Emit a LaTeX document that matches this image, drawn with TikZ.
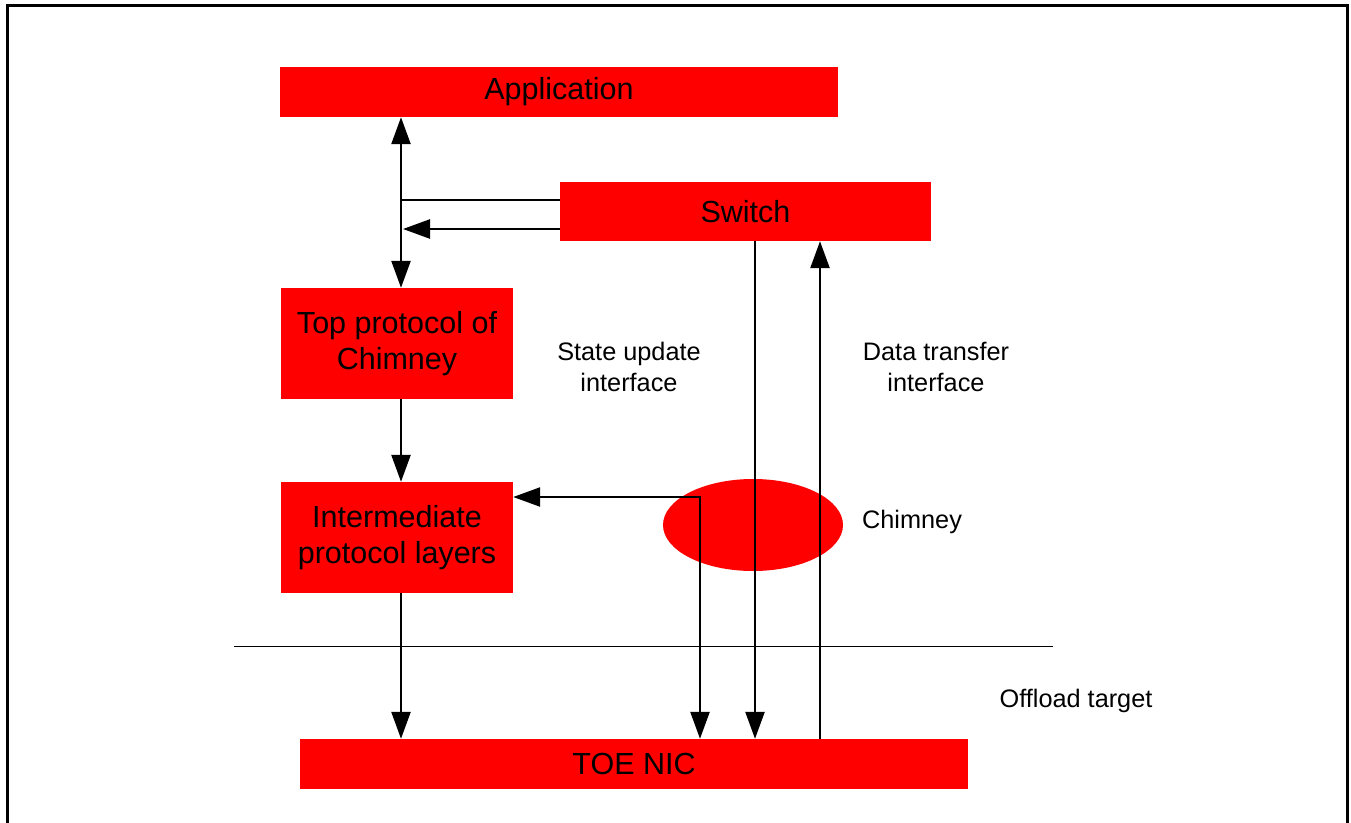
\documentclass[tikz,border=0pt]{standalone}
\usepackage{fontspec}
\setmainfont{Liberation Sans}
\usetikzlibrary{arrows.meta,shapes.geometric}
\begin{document}
\begin{tikzpicture}[x=1pt,y=-1pt,
  blk/.style={fill={rgb,255:red,255;green,0;blue,0}, draw=none, inner sep=0pt, align=center, font=\fontsize{30.5}{35.5}\selectfont},
  lbl/.style={align=center, font=\fontsize{25.3}{31}\selectfont},
  arr/.style={line width=2.5pt, -{Triangle[length=27pt,width=19pt]}},
  darr/.style={line width=2.5pt, {Triangle[length=27pt,width=19pt]}-{Triangle[length=27pt,width=19pt]}},
  ln/.style={line width=2.5pt}]
\useasboundingbox (0,0) rectangle (1351,822);
% frame
\draw[line width=3pt] (7,830) -- (7,5) -- (1347,5) -- (1347,830);
% separator
\draw[line width=0.8pt] (234,646) -- (1053,646);
% blocks
\node[blk, minimum width=558pt, minimum height=50pt] (app) at (559,92) {Application};
\node[blk, minimum width=371pt, minimum height=59pt] (sw) at (745.5,211.5) {Switch};
\node[blk, minimum width=232pt, minimum height=111pt] (top) at (397,343.5) {Top protocol of\\Chimney};
\node[blk, minimum width=232pt, minimum height=111pt] (mid) at (397,537.5) {Intermediate\\protocol layers};
\node[blk, minimum width=668pt, minimum height=50pt] (toe) at (634,764) {TOE NIC};
\node[ellipse, fill={rgb,255:red,255;green,0;blue,0}, minimum width=180pt, minimum height=92pt, inner sep=0pt] (chim) at (753,525) {};
% labels
\node[lbl] (lsu) at (629,367) {State update\\interface};
\node[lbl] (ldt) at (936,367) {Data transfer\\interface};
\node[lbl] (lch) at (912,522) {Chimney};
\node[lbl] (lot) at (1076,701) {Offload target};
% coordinates
\coordinate (xa) at (401,0);
\coordinate (j1) at (401,200);
\coordinate (j2) at (403,229);
\coordinate (c) at (700,497);
\coordinate (xs) at (755,0);
\coordinate (xd) at (820,0);
% connectors
\draw[darr] (app.south -| xa) -- (top.north -| xa);
\draw[ln] (sw.west |- j1) -- (j1);
\draw[arr] (sw.west |- j2) -- (j2);
\draw[arr] (top.south -| xa) -- (mid.north -| xa);
\draw[arr] (mid.south -| xa) -- (toe.north -| xa);
\draw[darr] (mid.east |- c) -- (c) -- (toe.north -| c);
\draw[arr] (sw.south -| xs) -- (toe.north -| xs);
\draw[arr] (toe.north -| xd) -- (sw.south -| xd);
\end{tikzpicture}
\end{document}
